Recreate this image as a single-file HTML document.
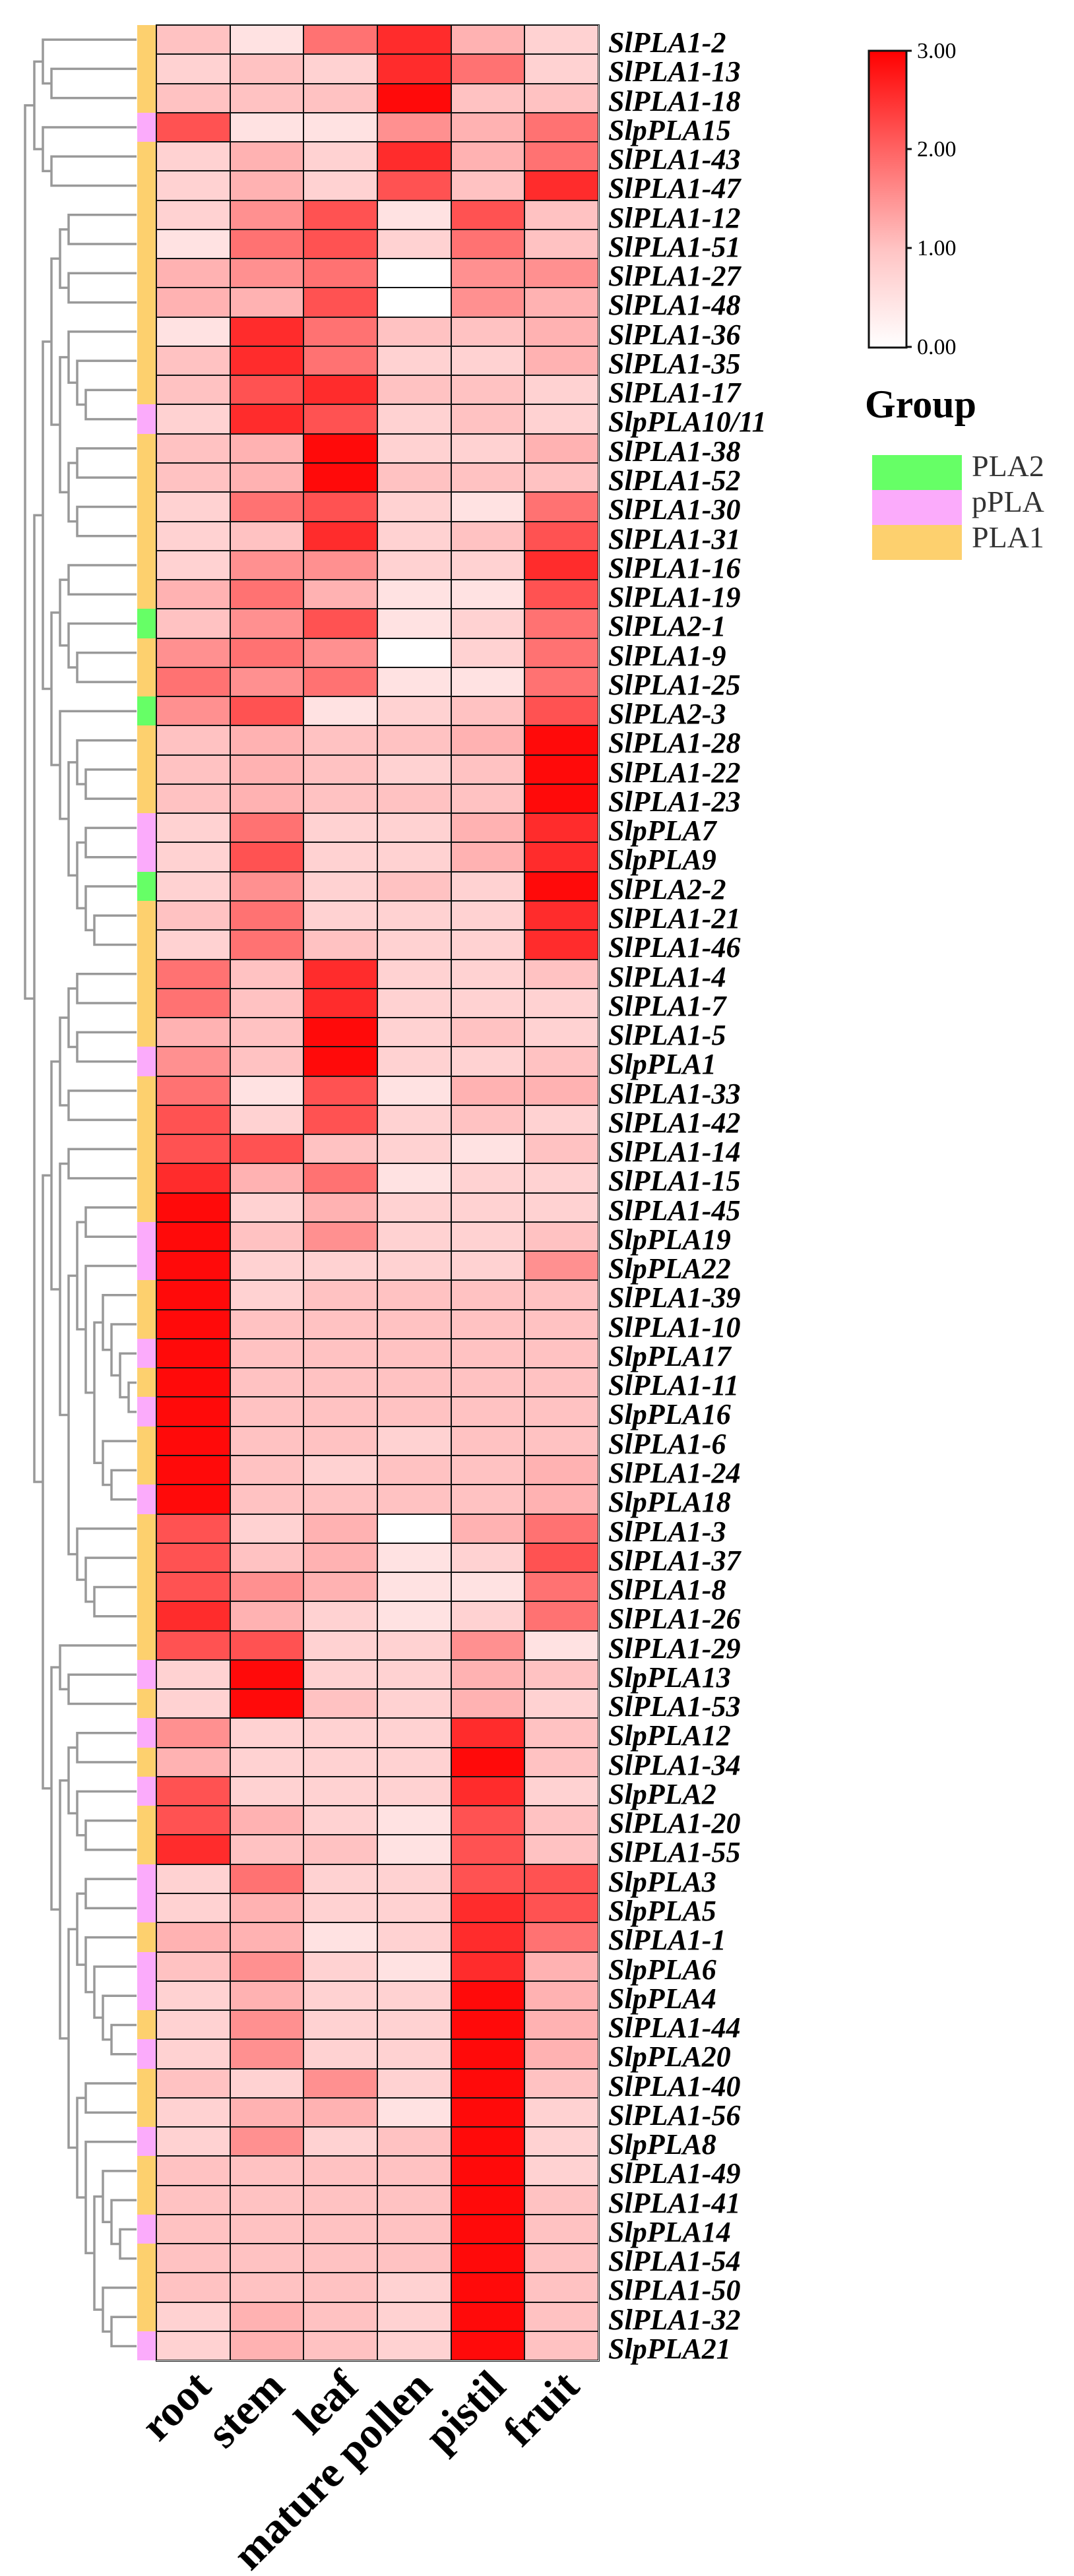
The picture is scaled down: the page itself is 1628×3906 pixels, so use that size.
<!DOCTYPE html>
<html><head><meta charset="utf-8"><style>
html,body{margin:0;padding:0;background:#fff;}
body{width:1628px;height:3906px;position:relative;overflow:hidden;}
.hm{position:absolute;left:0;top:38px;width:1628px;}
.r{height:44.27px;position:relative;}
.r::before{content:"";position:absolute;left:208px;width:29px;top:0;height:100%;background:#fdd06e;}
.r.p::before{background:#fbabfb;}
.r.g::before{background:#66ff66;}
.r i{position:absolute;top:0;height:100%;width:111.67px;box-sizing:border-box;border:1.5px solid #111;}
.r i:nth-child(1){left:237px}.r i:nth-child(2){left:348.67px}.r i:nth-child(3){left:460.33px}
.r i:nth-child(4){left:572px}.r i:nth-child(5){left:683.67px}.r i:nth-child(6){left:795.33px}
.r b{position:absolute;left:922px;top:1px;line-height:44.27px;font:italic bold 44px "Liberation Serif",serif;white-space:nowrap;color:#000;}
.c0{background:#ffffff}.c1{background:#ffe2e2}.c2{background:#ffd2d2}.c3{background:#ffc2c2}.c4{background:#ffb2b2}
.c5{background:#ff9090}.c6{background:#ff7272}.c7{background:#ff5252}.c8{background:#ff2c2c}.c9{background:#ff0a0a}
.frame{position:absolute;left:236px;top:37px;width:670.5px;height:3541.6px;border:1px solid #111;}
svg{position:absolute;left:0;top:0;}
</style></head><body>
<svg style="top:38px" width="208" height="3541.6" viewBox="0 0 208 80" preserveAspectRatio="none">
<g stroke="#999" stroke-width="3.5" fill="none">
<path vector-effect="non-scaling-stroke" d="M207 1.5H78V2.5H207M207 .5H65V2H78M207 4.5H78V5.5H207M207 3.5H65V5H78M65 1.25H52V4.25H65"/>
<path vector-effect="non-scaling-stroke" d="M207 6.5H104V7.5H207M207 8.5H104V9.5H207M104 7H91V9H104M207 12.5H130V13.5H207M207 11.5H117V13H130M207 10.5H104V12.25H117M207 14.5H117V15.5H207M207 16.5H117V17.5H207M117 15H104V17H117M104 11.375H91V16H104M91 8H78V13.6875H91"/>
<path vector-effect="non-scaling-stroke" d="M207 18.5H104V19.5H207M207 21.5H117V22.5H207M207 20.5H104V22H117M104 19H91V21.25H104M207 25.5H130V26.5H207M207 24.5H117V26H130M207 27.5H130V28.5H207M207 30.5H143V31.5H207M207 29.5H130V31H143M130 28H117V30.25H130M117 25.25H104V29.125H117M207 23.5H91V27.1875H104M91 20.125H78V25.34375H91M78 10.84375H65V22.734375H78"/>
<path vector-effect="non-scaling-stroke" d="M207 32.5H117V33.5H207M207 34.5H117V35.5H207M117 33H104V35H117M207 36.5H104V37.5H207M104 34H91V37H104"/>
<path vector-effect="non-scaling-stroke" d="M207 38.5H104V39.5H207M207 40.5H130V41.5H207M207 46.5H195V47.5H207M207 45.5H182V47H195M207 44.5H169V46.25H182M207 43.5H156V45.375H169M207 49.5H169V50.5H207M207 48.5H156V50H169M156 44.4375H143V49.25H156M207 42.5H130V46.84375H143M130 41H117V44.671875H130M207 53.5H143V54.5H207M207 52.5H130V54H143M207 51.5H117V53.25H130M117 42.836H104V52.375H117M104 39H91V47.6055H104M91 35.5H78V43.3027H91"/>
<path vector-effect="non-scaling-stroke" d="M207 56.5H104V57.5H207M207 55.5H91V57H104M207 58.5H117V59.5H207M207 61.5H130V62.5H207M207 60.5H117V62H130M117 59H104V61.25H117"/>
<path vector-effect="non-scaling-stroke" d="M207 63.5H130V64.5H207M207 68.5H169V69.5H207M207 67.5H156V69H169M207 66.5H143V68.25H156M207 65.5H130V67.375H143M130 64H117V66.4375H130M207 70.5H130V71.5H207M207 75.5H182V76.5H207M207 74.5H169V76H182M207 73.5H156V75.25H169M207 78.5H169V79.5H207M207 77.5H156V79H169M156 74.375H143V78.25H156M207 72.5H130V76.3125H143M130 71H117V74.406H130M117 65.219H104V72.703H117"/>
<path vector-effect="non-scaling-stroke" d="M104 60.125H91V68.961H104M91 56.25H78V64.543H91M78 39.401H65V60.397H78M65 16.789H52V49.899H65M52 2.75H38V33.344H52"/>
</g></svg>
<div class="hm">
<div class="r"><i class="c3"></i><i class="c1"></i><i class="c6"></i><i class="c8"></i><i class="c4"></i><i class="c2"></i><b>SlPLA1-2</b></div>
<div class="r"><i class="c2"></i><i class="c3"></i><i class="c2"></i><i class="c8"></i><i class="c6"></i><i class="c2"></i><b>SlPLA1-13</b></div>
<div class="r"><i class="c3"></i><i class="c3"></i><i class="c3"></i><i class="c9"></i><i class="c3"></i><i class="c3"></i><b>SlPLA1-18</b></div>
<div class="r p"><i class="c7"></i><i class="c1"></i><i class="c1"></i><i class="c5"></i><i class="c4"></i><i class="c6"></i><b>SlpPLA15</b></div>
<div class="r"><i class="c2"></i><i class="c4"></i><i class="c2"></i><i class="c8"></i><i class="c4"></i><i class="c6"></i><b>SlPLA1-43</b></div>
<div class="r"><i class="c2"></i><i class="c4"></i><i class="c2"></i><i class="c7"></i><i class="c3"></i><i class="c8"></i><b>SlPLA1-47</b></div>
<div class="r"><i class="c2"></i><i class="c5"></i><i class="c7"></i><i class="c1"></i><i class="c7"></i><i class="c3"></i><b>SlPLA1-12</b></div>
<div class="r"><i class="c1"></i><i class="c6"></i><i class="c7"></i><i class="c2"></i><i class="c6"></i><i class="c3"></i><b>SlPLA1-51</b></div>
<div class="r"><i class="c4"></i><i class="c5"></i><i class="c6"></i><i class="c0"></i><i class="c5"></i><i class="c5"></i><b>SlPLA1-27</b></div>
<div class="r"><i class="c4"></i><i class="c4"></i><i class="c7"></i><i class="c0"></i><i class="c5"></i><i class="c4"></i><b>SlPLA1-48</b></div>
<div class="r"><i class="c1"></i><i class="c8"></i><i class="c6"></i><i class="c3"></i><i class="c3"></i><i class="c4"></i><b>SlPLA1-36</b></div>
<div class="r"><i class="c3"></i><i class="c8"></i><i class="c6"></i><i class="c2"></i><i class="c2"></i><i class="c4"></i><b>SlPLA1-35</b></div>
<div class="r"><i class="c3"></i><i class="c7"></i><i class="c8"></i><i class="c3"></i><i class="c3"></i><i class="c2"></i><b>SlPLA1-17</b></div>
<div class="r p"><i class="c2"></i><i class="c8"></i><i class="c7"></i><i class="c2"></i><i class="c3"></i><i class="c2"></i><b>SlpPLA10/11</b></div>
<div class="r"><i class="c3"></i><i class="c4"></i><i class="c9"></i><i class="c2"></i><i class="c2"></i><i class="c4"></i><b>SlPLA1-38</b></div>
<div class="r"><i class="c3"></i><i class="c4"></i><i class="c9"></i><i class="c3"></i><i class="c3"></i><i class="c3"></i><b>SlPLA1-52</b></div>
<div class="r"><i class="c2"></i><i class="c6"></i><i class="c7"></i><i class="c2"></i><i class="c1"></i><i class="c6"></i><b>SlPLA1-30</b></div>
<div class="r"><i class="c2"></i><i class="c3"></i><i class="c8"></i><i class="c2"></i><i class="c3"></i><i class="c7"></i><b>SlPLA1-31</b></div>
<div class="r"><i class="c2"></i><i class="c5"></i><i class="c5"></i><i class="c2"></i><i class="c2"></i><i class="c8"></i><b>SlPLA1-16</b></div>
<div class="r"><i class="c4"></i><i class="c6"></i><i class="c4"></i><i class="c1"></i><i class="c1"></i><i class="c7"></i><b>SlPLA1-19</b></div>
<div class="r g"><i class="c3"></i><i class="c5"></i><i class="c7"></i><i class="c1"></i><i class="c2"></i><i class="c6"></i><b>SlPLA2-1</b></div>
<div class="r"><i class="c5"></i><i class="c6"></i><i class="c5"></i><i class="c0"></i><i class="c2"></i><i class="c6"></i><b>SlPLA1-9</b></div>
<div class="r"><i class="c6"></i><i class="c5"></i><i class="c6"></i><i class="c1"></i><i class="c1"></i><i class="c6"></i><b>SlPLA1-25</b></div>
<div class="r g"><i class="c5"></i><i class="c7"></i><i class="c1"></i><i class="c2"></i><i class="c3"></i><i class="c7"></i><b>SlPLA2-3</b></div>
<div class="r"><i class="c3"></i><i class="c4"></i><i class="c3"></i><i class="c3"></i><i class="c4"></i><i class="c9"></i><b>SlPLA1-28</b></div>
<div class="r"><i class="c3"></i><i class="c4"></i><i class="c3"></i><i class="c2"></i><i class="c3"></i><i class="c9"></i><b>SlPLA1-22</b></div>
<div class="r"><i class="c3"></i><i class="c4"></i><i class="c3"></i><i class="c3"></i><i class="c3"></i><i class="c9"></i><b>SlPLA1-23</b></div>
<div class="r p"><i class="c2"></i><i class="c6"></i><i class="c2"></i><i class="c2"></i><i class="c4"></i><i class="c8"></i><b>SlpPLA7</b></div>
<div class="r p"><i class="c2"></i><i class="c7"></i><i class="c2"></i><i class="c2"></i><i class="c4"></i><i class="c8"></i><b>SlpPLA9</b></div>
<div class="r g"><i class="c2"></i><i class="c5"></i><i class="c2"></i><i class="c3"></i><i class="c2"></i><i class="c9"></i><b>SlPLA2-2</b></div>
<div class="r"><i class="c3"></i><i class="c6"></i><i class="c2"></i><i class="c2"></i><i class="c2"></i><i class="c8"></i><b>SlPLA1-21</b></div>
<div class="r"><i class="c2"></i><i class="c6"></i><i class="c3"></i><i class="c2"></i><i class="c2"></i><i class="c8"></i><b>SlPLA1-46</b></div>
<div class="r"><i class="c6"></i><i class="c3"></i><i class="c8"></i><i class="c2"></i><i class="c2"></i><i class="c3"></i><b>SlPLA1-4</b></div>
<div class="r"><i class="c6"></i><i class="c3"></i><i class="c8"></i><i class="c2"></i><i class="c2"></i><i class="c2"></i><b>SlPLA1-7</b></div>
<div class="r"><i class="c4"></i><i class="c3"></i><i class="c9"></i><i class="c2"></i><i class="c3"></i><i class="c2"></i><b>SlPLA1-5</b></div>
<div class="r p"><i class="c5"></i><i class="c3"></i><i class="c9"></i><i class="c2"></i><i class="c2"></i><i class="c3"></i><b>SlpPLA1</b></div>
<div class="r"><i class="c6"></i><i class="c1"></i><i class="c7"></i><i class="c1"></i><i class="c4"></i><i class="c4"></i><b>SlPLA1-33</b></div>
<div class="r"><i class="c7"></i><i class="c2"></i><i class="c7"></i><i class="c2"></i><i class="c3"></i><i class="c2"></i><b>SlPLA1-42</b></div>
<div class="r"><i class="c7"></i><i class="c7"></i><i class="c3"></i><i class="c2"></i><i class="c1"></i><i class="c3"></i><b>SlPLA1-14</b></div>
<div class="r"><i class="c8"></i><i class="c4"></i><i class="c6"></i><i class="c1"></i><i class="c2"></i><i class="c2"></i><b>SlPLA1-15</b></div>
<div class="r"><i class="c9"></i><i class="c2"></i><i class="c4"></i><i class="c2"></i><i class="c2"></i><i class="c2"></i><b>SlPLA1-45</b></div>
<div class="r p"><i class="c9"></i><i class="c3"></i><i class="c5"></i><i class="c2"></i><i class="c2"></i><i class="c3"></i><b>SlpPLA19</b></div>
<div class="r p"><i class="c9"></i><i class="c2"></i><i class="c2"></i><i class="c2"></i><i class="c2"></i><i class="c5"></i><b>SlpPLA22</b></div>
<div class="r"><i class="c9"></i><i class="c2"></i><i class="c3"></i><i class="c3"></i><i class="c3"></i><i class="c3"></i><b>SlPLA1-39</b></div>
<div class="r"><i class="c9"></i><i class="c3"></i><i class="c3"></i><i class="c3"></i><i class="c3"></i><i class="c3"></i><b>SlPLA1-10</b></div>
<div class="r p"><i class="c9"></i><i class="c3"></i><i class="c3"></i><i class="c3"></i><i class="c3"></i><i class="c3"></i><b>SlpPLA17</b></div>
<div class="r"><i class="c9"></i><i class="c3"></i><i class="c3"></i><i class="c3"></i><i class="c3"></i><i class="c3"></i><b>SlPLA1-11</b></div>
<div class="r p"><i class="c9"></i><i class="c3"></i><i class="c3"></i><i class="c3"></i><i class="c3"></i><i class="c3"></i><b>SlpPLA16</b></div>
<div class="r"><i class="c9"></i><i class="c3"></i><i class="c3"></i><i class="c2"></i><i class="c3"></i><i class="c3"></i><b>SlPLA1-6</b></div>
<div class="r"><i class="c9"></i><i class="c3"></i><i class="c2"></i><i class="c3"></i><i class="c3"></i><i class="c4"></i><b>SlPLA1-24</b></div>
<div class="r p"><i class="c9"></i><i class="c3"></i><i class="c3"></i><i class="c3"></i><i class="c3"></i><i class="c4"></i><b>SlpPLA18</b></div>
<div class="r"><i class="c7"></i><i class="c2"></i><i class="c4"></i><i class="c0"></i><i class="c4"></i><i class="c6"></i><b>SlPLA1-3</b></div>
<div class="r"><i class="c7"></i><i class="c3"></i><i class="c4"></i><i class="c1"></i><i class="c2"></i><i class="c7"></i><b>SlPLA1-37</b></div>
<div class="r"><i class="c7"></i><i class="c5"></i><i class="c4"></i><i class="c1"></i><i class="c1"></i><i class="c6"></i><b>SlPLA1-8</b></div>
<div class="r"><i class="c8"></i><i class="c4"></i><i class="c2"></i><i class="c1"></i><i class="c2"></i><i class="c6"></i><b>SlPLA1-26</b></div>
<div class="r"><i class="c7"></i><i class="c7"></i><i class="c2"></i><i class="c2"></i><i class="c5"></i><i class="c1"></i><b>SlPLA1-29</b></div>
<div class="r p"><i class="c2"></i><i class="c9"></i><i class="c2"></i><i class="c2"></i><i class="c4"></i><i class="c3"></i><b>SlpPLA13</b></div>
<div class="r"><i class="c2"></i><i class="c9"></i><i class="c3"></i><i class="c2"></i><i class="c4"></i><i class="c2"></i><b>SlPLA1-53</b></div>
<div class="r p"><i class="c5"></i><i class="c2"></i><i class="c2"></i><i class="c2"></i><i class="c8"></i><i class="c3"></i><b>SlpPLA12</b></div>
<div class="r"><i class="c4"></i><i class="c2"></i><i class="c2"></i><i class="c2"></i><i class="c9"></i><i class="c3"></i><b>SlPLA1-34</b></div>
<div class="r p"><i class="c7"></i><i class="c2"></i><i class="c2"></i><i class="c2"></i><i class="c8"></i><i class="c2"></i><b>SlpPLA2</b></div>
<div class="r"><i class="c7"></i><i class="c4"></i><i class="c2"></i><i class="c1"></i><i class="c7"></i><i class="c3"></i><b>SlPLA1-20</b></div>
<div class="r"><i class="c8"></i><i class="c3"></i><i class="c3"></i><i class="c1"></i><i class="c7"></i><i class="c3"></i><b>SlPLA1-55</b></div>
<div class="r p"><i class="c2"></i><i class="c6"></i><i class="c2"></i><i class="c2"></i><i class="c7"></i><i class="c7"></i><b>SlpPLA3</b></div>
<div class="r p"><i class="c2"></i><i class="c4"></i><i class="c2"></i><i class="c2"></i><i class="c8"></i><i class="c7"></i><b>SlpPLA5</b></div>
<div class="r"><i class="c4"></i><i class="c4"></i><i class="c1"></i><i class="c2"></i><i class="c8"></i><i class="c6"></i><b>SlPLA1-1</b></div>
<div class="r p"><i class="c3"></i><i class="c5"></i><i class="c2"></i><i class="c1"></i><i class="c8"></i><i class="c4"></i><b>SlpPLA6</b></div>
<div class="r p"><i class="c2"></i><i class="c4"></i><i class="c2"></i><i class="c2"></i><i class="c9"></i><i class="c4"></i><b>SlpPLA4</b></div>
<div class="r"><i class="c2"></i><i class="c5"></i><i class="c2"></i><i class="c2"></i><i class="c9"></i><i class="c4"></i><b>SlPLA1-44</b></div>
<div class="r p"><i class="c2"></i><i class="c5"></i><i class="c2"></i><i class="c2"></i><i class="c9"></i><i class="c4"></i><b>SlpPLA20</b></div>
<div class="r"><i class="c3"></i><i class="c2"></i><i class="c5"></i><i class="c2"></i><i class="c9"></i><i class="c3"></i><b>SlPLA1-40</b></div>
<div class="r"><i class="c2"></i><i class="c4"></i><i class="c4"></i><i class="c1"></i><i class="c9"></i><i class="c2"></i><b>SlPLA1-56</b></div>
<div class="r p"><i class="c2"></i><i class="c5"></i><i class="c2"></i><i class="c3"></i><i class="c9"></i><i class="c2"></i><b>SlpPLA8</b></div>
<div class="r"><i class="c3"></i><i class="c3"></i><i class="c3"></i><i class="c3"></i><i class="c9"></i><i class="c2"></i><b>SlPLA1-49</b></div>
<div class="r"><i class="c3"></i><i class="c3"></i><i class="c3"></i><i class="c3"></i><i class="c9"></i><i class="c3"></i><b>SlPLA1-41</b></div>
<div class="r p"><i class="c3"></i><i class="c3"></i><i class="c3"></i><i class="c3"></i><i class="c9"></i><i class="c3"></i><b>SlpPLA14</b></div>
<div class="r"><i class="c3"></i><i class="c3"></i><i class="c3"></i><i class="c3"></i><i class="c9"></i><i class="c3"></i><b>SlPLA1-54</b></div>
<div class="r"><i class="c3"></i><i class="c3"></i><i class="c3"></i><i class="c2"></i><i class="c9"></i><i class="c3"></i><b>SlPLA1-50</b></div>
<div class="r"><i class="c2"></i><i class="c4"></i><i class="c3"></i><i class="c2"></i><i class="c9"></i><i class="c3"></i><b>SlPLA1-32</b></div>
<div class="r p"><i class="c2"></i><i class="c4"></i><i class="c3"></i><i class="c2"></i><i class="c9"></i><i class="c3"></i><b>SlpPLA21</b></div>
</div>
<div class="frame"></div>
<svg width="1628" height="3906" viewBox="0 0 1628 3906" style="pointer-events:none">
<defs><linearGradient id="cb" x1="0" y1="1" x2="0" y2="0">
<stop offset="0" stop-color="#ffffff"/><stop offset="0.33" stop-color="#ffc4c4"/><stop offset="0.67" stop-color="#ff6262"/><stop offset="1" stop-color="#ff0000"/></linearGradient></defs>
<g font-family="Liberation Serif, serif" font-weight="bold" font-size="66" fill="#000" text-anchor="end">
<text x="323" y="3622" transform="rotate(-45 323 3622)">root</text>
<text x="434.7" y="3622" transform="rotate(-45 434.7 3622)">stem</text>
<text x="546.3" y="3622" transform="rotate(-45 546.3 3622)">leaf</text>
<text x="658" y="3622" transform="rotate(-45 658 3622)">mature pollen</text>
<text x="769.7" y="3622" transform="rotate(-45 769.7 3622)">pistil</text>
<text x="881.3" y="3622" transform="rotate(-45 881.3 3622)">fruit</text>
</g>
<rect x="1317" y="77" width="57" height="450" fill="url(#cb)" stroke="#111" stroke-width="3"/>
<g stroke="#111" stroke-width="3"><line x1="1374" y1="77" x2="1382" y2="77"/><line x1="1374" y1="226" x2="1382" y2="226"/><line x1="1374" y1="376" x2="1382" y2="376"/><line x1="1374" y1="526" x2="1382" y2="526"/></g>
<g font-family="Liberation Serif, serif" font-size="34" fill="#000">
<text x="1390" y="88">3.00</text><text x="1390" y="237">2.00</text><text x="1390" y="387">1.00</text><text x="1390" y="537">0.00</text></g>
<text x="1311" y="633" font-family="Liberation Serif, serif" font-weight="bold" font-size="60">Group</text>
<rect x="1322" y="690" width="136" height="53" fill="#66ff66"/>
<rect x="1322" y="743" width="136" height="53" fill="#fbabfb"/>
<rect x="1322" y="796" width="136" height="53" fill="#fdd06e"/>
<g font-family="Liberation Serif, serif" font-size="46" fill="#333">
<text x="1473" y="722">PLA2</text><text x="1473" y="776">pPLA</text><text x="1473" y="830">PLA1</text></g>
</svg>
</body></html>
